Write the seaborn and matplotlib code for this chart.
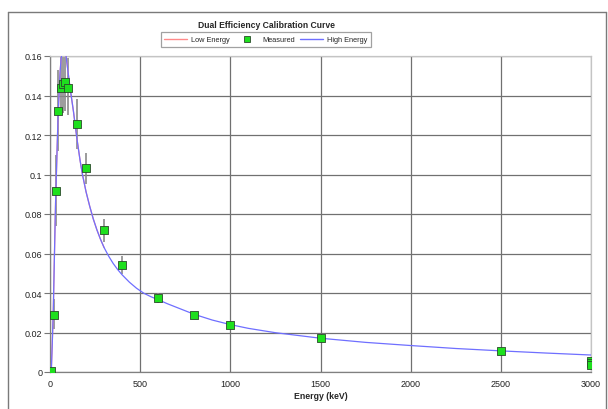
import matplotlib
matplotlib.use("Agg")
import matplotlib.pyplot as plt
from matplotlib.lines import Line2D
import seaborn as sns
import pandas as pd

# ---- data ----
fit_energy = [7, 12, 18, 23, 28, 32, 36, 40, 45, 50, 56, 62, 70, 80, 89, 100, 111, 130, 148,
              167, 180, 200, 220, 240, 260, 280, 300, 325, 350, 375, 400, 440, 480, 520, 560,
              600, 650, 700, 800, 900, 1000, 1100, 1250, 1500, 1750, 2000, 2250, 2500, 2750,
              3000]
high_eff = [0.0, 0.013, 0.030, 0.052, 0.074, 0.090, 0.102, 0.115, 0.130, 0.140, 0.152, 0.159,
            0.163, 0.163, 0.160, 0.152, 0.144, 0.132, 0.119, 0.107, 0.100, 0.0912, 0.0840,
            0.0775, 0.0720, 0.0672, 0.0630, 0.0587, 0.0550, 0.0519, 0.0492, 0.0455, 0.0424,
            0.0399, 0.0381, 0.0366, 0.0346, 0.0328, 0.0292, 0.0263, 0.0240, 0.0221, 0.0199,
            0.0171, 0.0150, 0.0134, 0.0119, 0.0107, 0.0096, 0.0086]
low_energy = [7, 12, 18, 23, 28, 32, 36, 40, 45, 50, 56, 62, 70, 80, 89, 100, 111, 130, 148,
              167, 180, 200, 220, 240, 260, 280, 300]
low_eff = [0.0, 0.013, 0.030, 0.052, 0.074, 0.090, 0.102, 0.115, 0.130, 0.140, 0.152, 0.159,
           0.163, 0.163, 0.160, 0.152, 0.144, 0.132, 0.119, 0.107, 0.100, 0.0912, 0.0840,
           0.0775, 0.0720, 0.0672, 0.0630]

meas_energy = [7, 20, 32, 46, 59, 70, 81, 100, 150, 200, 300, 400, 600, 800, 1000, 1500,
               2500, 3000, 3000, 3000]
meas_eff = [0.0003, 0.029, 0.0914, 0.132, 0.1437, 0.146, 0.1466, 0.1438, 0.1255, 0.1032,
            0.0717, 0.0541, 0.0373, 0.0288, 0.0239, 0.0171, 0.0106, 0.0058, 0.0046, 0.0034]
err_low = [0.0003, 0.022, 0.074, 0.112, 0.130, 0.131, 0.132, 0.130, 0.113, 0.095,
           0.066, 0.0495, 0.035, 0.0268, 0.0228, 0.0165, 0.0102, 0.0055, 0.0043, 0.0031]
err_high = [0.0003, 0.037, 0.110, 0.153, 0.160, 0.161, 0.161, 0.159, 0.138, 0.111,
            0.0776, 0.0588, 0.0398, 0.0305, 0.0250, 0.0177, 0.0110, 0.0061, 0.0049, 0.0037]

x_ticks = [0, 500, 1000, 1500, 2000, 2500, 3000]
y_ticks = [0, 0.02, 0.04, 0.06, 0.08, 0.1, 0.12, 0.14, 0.16]
y_tick_labels = ["0", "0.02", "0.04", "0.06", "0.08", "0.1", "0.12", "0.14", "0.16"]

title = "Dual Efficiency Calibration Curve"
x_label = "Energy (keV)"

# ---- plotting ----
sns.set_style("white")
plt.rcParams["font.family"] = ["Liberation Sans", "DejaVu Sans"]

W, H = 608, 410
fig = plt.figure(figsize=(W / 100, H / 100), dpi=100)
ax = fig.add_axes([50 / W, 1 - 373 / H, (591 - 50) / W, (373 - 57) / H])

df_high = pd.DataFrame({"E": fit_energy, "eff": high_eff})
df_low = pd.DataFrame({"E": low_energy, "eff": low_eff})
df_meas = pd.DataFrame({"E": meas_energy, "eff": meas_eff})

ax.vlines(meas_energy, err_low, err_high, color="#8a8a8a", lw=1.2, zorder=2)
sns.lineplot(data=df_low, x="E", y="eff", ax=ax, color="#ff8a8a", lw=0.9,
             estimator=None, sort=False, zorder=3)
sns.lineplot(data=df_high, x="E", y="eff", ax=ax, color="#6f6fff", lw=0.9,
             estimator=None, sort=False, zorder=3)
sns.scatterplot(data=df_meas, x="E", y="eff", ax=ax, marker="s", s=30,
                color="#1ee01e", edgecolor="#2a4a2a", linewidth=0.6, zorder=4)

ax.set_xlim(0, 3000)
ax.set_ylim(0, 0.16)
ax.set_xticks(x_ticks)
ax.set_xticklabels([str(v) for v in x_ticks])
ax.set_yticks(y_ticks)
ax.set_yticklabels(y_tick_labels)
ax.tick_params(axis="y", length=4, width=0.8, color="#777777", pad=1.5,
               labelsize=6.5, labelcolor="#222222", left=True)
ax.tick_params(axis="x", length=0, pad=5, labelsize=6.5, labelcolor="#222222")
ax.grid(True, color="#707070", lw=0.9)
ax.set_axisbelow(True)
for side in ["left", "bottom"]:
    ax.spines[side].set_color("#808080")
    ax.spines[side].set_linewidth(0.9)
for side in ["top", "right"]:
    ax.spines[side].set_color("#c4c4c4")
    ax.spines[side].set_linewidth(0.9)

ax.set_xlabel(x_label, fontsize=6.3, fontweight="bold", labelpad=2)
ax.set_ylabel("")

fig.text(266 / W, 1 - 25 / H, title, ha="center", va="center",
         fontsize=6.2, fontweight="bold")

handles = [
    Line2D([], [], color="#ff8a8a", lw=1.0),
    Line2D([], [], ls="none", marker="s", markersize=4.8, markerfacecolor="#1ee01e",
           markeredgecolor="#2a4a2a", markeredgewidth=0.6),
    Line2D([], [], color="#6f6fff", lw=1.0),
]
leg = fig.legend(handles, ["Low Energy", "Measured", "High Energy"], ncol=3,
                 loc="center", bbox_to_anchor=(266 / W, 1 - 40.5 / H),
                 fontsize=5.3, handlelength=3.1, handletextpad=0.55,
                 columnspacing=0.75, borderpad=0.5, fancybox=False, frameon=True)
leg.get_frame().set_edgecolor("#8a8a8a")
leg.get_frame().set_linewidth(0.9)

# outer chart border
border_kw = dict(color="#7a7a7a", lw=1.0, transform=fig.transFigure)
fig.add_artist(Line2D([8 / W, 8 / W], [0, 1 - 13 / H], **border_kw))
fig.add_artist(Line2D([8 / W, 606 / W], [1 - 13 / H, 1 - 13 / H], **border_kw))
fig.add_artist(Line2D([606 / W, 606 / W], [0, 1 - 13 / H], **border_kw))

fig.savefig("out.png", dpi=100, facecolor="white")
